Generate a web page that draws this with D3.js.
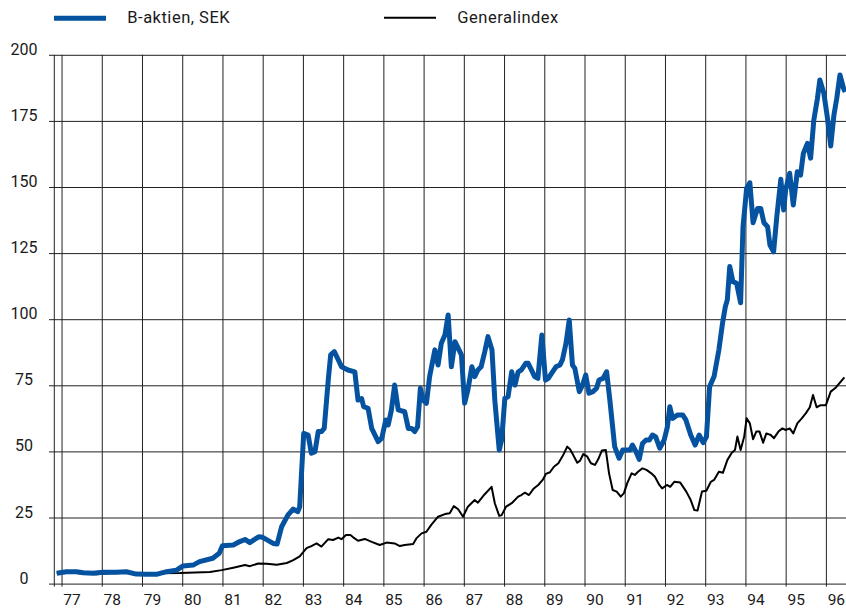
<!DOCTYPE html>
<html>
<head>
<meta charset="utf-8">
<script src="https://cdn.jsdelivr.net/npm/d3@7"></script>
<style>
  body { margin: 0; background: #fff; }
  svg text { font-family: Roboto, "Open Sans", sans-serif; fill: #1a1a1a; }
</style>
</head>
<body>
<svg id="chart"></svg>
<script>
// B-aktien, SEK (decimal year, value)
var bDates = [1976.88, 1977.12, 1977.37, 1977.54, 1977.78, 1978.03, 1978.37, 1978.61, 1978.86, 1979.11,
  1979.36, 1979.61, 1979.86, 1980.02, 1980.27, 1980.43, 1980.76, 1980.92, 1981.0, 1981.27,
  1981.43, 1981.56, 1981.68, 1981.9, 1982.0, 1982.26, 1982.36, 1982.47, 1982.63, 1982.76,
  1982.87, 1982.92, 1983.02, 1983.13, 1983.21, 1983.3, 1983.38, 1983.46, 1983.53, 1983.63,
  1983.69, 1983.78, 1983.88, 1983.96, 1984.12, 1984.29, 1984.37, 1984.46, 1984.51, 1984.62,
  1984.71, 1984.87, 1984.96, 1985.06, 1985.12, 1985.2, 1985.28, 1985.37, 1985.53, 1985.62,
  1985.7, 1985.78, 1985.85, 1985.92, 1985.99, 1986.07, 1986.15, 1986.28, 1986.36, 1986.44,
  1986.53, 1986.61, 1986.69, 1986.78, 1986.94, 1987.02, 1987.1, 1987.2, 1987.27, 1987.35,
  1987.43, 1987.52, 1987.6, 1987.7, 1987.77, 1987.88, 1987.94, 1988.02, 1988.1, 1988.19,
  1988.27, 1988.35, 1988.43, 1988.54, 1988.6, 1988.68, 1988.76, 1988.84, 1988.94, 1989.03,
  1989.1, 1989.18, 1989.29, 1989.39, 1989.45, 1989.54, 1989.62, 1989.7, 1989.76, 1989.87,
  1989.95, 1990.03, 1990.11, 1990.21, 1990.3, 1990.36, 1990.46, 1990.55, 1990.63, 1990.75,
  1990.86, 1990.95, 1991.04, 1991.13, 1991.19, 1991.28, 1991.36, 1991.44, 1991.53, 1991.61,
  1991.69, 1991.77, 1991.87, 1991.98, 1992.06, 1992.12, 1992.19, 1992.31, 1992.44, 1992.52,
  1992.64, 1992.75, 1992.85, 1992.95, 1993.03, 1993.11, 1993.22, 1993.34, 1993.43, 1993.5,
  1993.55, 1993.61, 1993.69, 1993.78, 1993.88, 1993.94, 1994.03, 1994.11, 1994.19, 1994.3,
  1994.38, 1994.46, 1994.55, 1994.61, 1994.7, 1994.78, 1994.88, 1994.95, 1995.0, 1995.1,
  1995.19, 1995.29, 1995.37, 1995.44, 1995.54, 1995.62, 1995.7, 1995.79, 1995.85, 1995.95,
  1996.04, 1996.12, 1996.2, 1996.27, 1996.35, 1996.44, 1996.48]
var bValues = [3.9, 4.5, 4.5, 4.1, 3.9, 4.3, 4.3, 4.5, 3.6, 3.5,
  3.5, 4.5, 5.1, 6.7, 7.0, 8.3, 9.6, 11.5, 14.3, 14.6,
  15.9, 16.7, 15.5, 17.7, 17.5, 15.2, 15.0, 21.5, 26, 28.2,
  27.2, 29, 56.8, 56.2, 49.3, 49.9, 57.5, 57.5, 58.7, 77,
  86.5, 87.7, 84.6, 82, 80.8, 80.1, 69.4, 70, 66.9, 66.3,
  58.7, 53.7, 55, 61.9, 60, 65.7, 75.1, 65.7, 65, 58.7,
  58.7, 57.5, 59.3, 73.9, 69.4, 68.2, 78.3, 88.4, 82.7, 90.9,
  94, 101.6, 82, 91.5, 86.5, 68.2, 73.2, 82, 78.3, 80.8,
  82, 87.7, 93.4, 88.4, 69.4, 50.5, 54.3, 70.1, 70.7, 80.1,
  75.1, 80.1, 80.8, 83.3, 83.3, 80.8, 78.3, 77.6, 94, 77,
  77.6, 79.5, 82, 82.7, 84.6, 90.9, 99.7, 82.7, 81.4, 72.6,
  75.1, 78.9, 72, 72.6, 73.9, 77, 77.6, 80.1, 69.4, 51.8,
  47.4, 50.5, 50.5, 50.5, 52.4, 49.9, 47, 53, 54.3, 54.3,
  56.2, 55.5, 51.2, 54.3, 59.3, 66.9, 62.5, 63.8, 63.8, 61.9,
  56.2, 52.4, 56.2, 53.3, 55.5, 74.5, 78.3, 88.4, 98.4, 104.7,
  107.3, 119.9, 114.2, 113.6, 106.2, 135, 149.5, 151.6, 136.5, 141.9,
  141.9, 136.5, 135, 128, 125.5, 138.8, 152.9, 141.3, 148.9, 155.2,
  143.2, 155.8, 154.5, 162.7, 166.5, 160.9, 175.3, 183.5, 190.5, 185.4,
  176, 165.5, 177.2, 183.5, 192.4, 187.3, 186]

// Generalindex (decimal year, value)
var gDates = [1976.88, 1977.12, 1977.45, 1977.87, 1978.2, 1978.62, 1978.95, 1979.37, 1979.95, 1980.69,
  1980.98, 1981.27, 1981.56, 1981.68, 1981.89, 1982.1, 1982.35, 1982.6, 1982.76, 1982.92,
  1983.09, 1983.21, 1983.34, 1983.46, 1983.63, 1983.75, 1983.88, 1983.96, 1984.07, 1984.18,
  1984.25, 1984.37, 1984.54, 1984.71, 1984.91, 1985.08, 1985.28, 1985.41, 1985.53, 1985.74,
  1985.82, 1985.95, 1986.07, 1986.19, 1986.36, 1986.53, 1986.65, 1986.75, 1986.86, 1986.98,
  1987.1, 1987.27, 1987.35, 1987.52, 1987.69, 1987.77, 1987.88, 1987.94, 1988.05, 1988.19,
  1988.35, 1988.43, 1988.52, 1988.62, 1988.74, 1988.85, 1988.96, 1989.04, 1989.14, 1989.24,
  1989.35, 1989.47, 1989.57, 1989.64, 1989.72, 1989.82, 1989.89, 1989.97, 1990.07, 1990.16,
  1990.26, 1990.34, 1990.43, 1990.53, 1990.61, 1990.7, 1990.8, 1990.9, 1990.98, 1991.06,
  1991.17, 1991.25, 1991.33, 1991.44, 1991.54, 1991.66, 1991.75, 1991.86, 1991.93, 1992.05,
  1992.13, 1992.23, 1992.38, 1992.53, 1992.64, 1992.73, 1992.81, 1992.92, 1993.03, 1993.14,
  1993.22, 1993.34, 1993.44, 1993.55, 1993.66, 1993.74, 1993.8, 1993.88, 1993.97, 1994.03,
  1994.11, 1994.19, 1994.27, 1994.35, 1994.44, 1994.52, 1994.63, 1994.71, 1994.82, 1994.92,
  1995.0, 1995.1, 1995.19, 1995.29, 1995.4, 1995.5, 1995.6, 1995.68, 1995.77, 1995.87,
  1996.0, 1996.12, 1996.25, 1996.37, 1996.46]
var gValues = [4.1, 4.3, 3.9, 3.5, 3.9, 4.1, 3.9, 3.9, 4.0, 4.4,
  5.1, 6.0, 7.0, 6.6, 7.6, 7.5, 7.1, 7.8, 8.9, 10.3,
  13.4, 14.2, 15.2, 14, 16.8, 16.5, 17.4, 16.8, 18.4, 18.4,
  17.5, 16.2, 16.9, 15.8, 14.6, 15.5, 15.2, 14.2, 14.6, 15,
  17.1, 19, 19.6, 22.2, 25.3, 26.3, 26.6, 29.3, 28.1, 25.3,
  29.1, 31.6, 30.6, 33.8, 36.6, 30.4, 25.6, 25.9, 29.1, 30.4,
  32.9, 33.5, 34.4, 33.5, 36, 37.3, 39.2, 41.5, 42.1, 44.2,
  45.5, 48.6, 51.8, 50.8, 48.6, 45.7, 46.5, 49, 48, 45.5,
  44.9, 47, 50.3, 50.5, 41.7, 35.4, 34.8, 32.9, 34.2, 37.9,
  41.7, 41.1, 42.3, 43.6, 43, 41.7, 40.4, 37.3, 36, 37.3,
  36.6, 38.5, 38.2, 34.8, 31.6, 27.8, 27.6, 34.8, 35.1, 38.5,
  39.2, 42.3, 41.9, 46.7, 49.5, 50.5, 55.6, 50.5, 55.6, 62.5,
  60.6, 54.6, 57.5, 57.5, 53.3, 56.8, 56.2, 55, 57.5, 58.7,
  58.1, 58.7, 56.8, 60.6, 62.5, 64.4, 66.7, 71.3, 66.7, 67.5,
  67.5, 72.6, 74.2, 76.4, 78]

var tickYears = [1977, 1978, 1979, 1980, 1981, 1982, 1983, 1984, 1985, 1986,
  1987, 1988, 1989, 1990, 1991, 1992, 1993, 1994, 1995, 1996]
var yearLabels = ["77", "78", "79", "80", "81", "82", "83", "84", "85", "86",
  "87", "88", "89", "90", "91", "92", "93", "94", "95", "96"]
var yTicks = [0, 25, 50, 75, 100, 125, 150, 175, 200]
var seriesNames = ["B-aktien, SEK", "Generalindex"]

var dimensions = {
    width: 846,
    height: 609,
    left: 54.3,
    right: 846,
    top: 54.8,
    bottom: 583.6
}

var blue = "#0553a0"

var svg = d3.select("#chart")
            .attr("width", dimensions.width)
            .attr("height", dimensions.height)

var xScale = d3.scaleLinear()
               .domain([1976.82, 1996.5])
               .range([dimensions.left, dimensions.right])

var yScale = d3.scaleLinear()
               .domain([0, 200])
               .range([dimensions.bottom, dimensions.top])

// horizontal grid lines (they stick out a bit to the left like ticks)
var yAxisGen = d3.axisLeft(yScale)
                 .tickValues(yTicks)
                 .tickSize(-(dimensions.right - 49))
                 .tickFormat("")
svg.append("g")
   .attr("transform", "translate(49,0)")
   .call(yAxisGen)
   .call(g => g.select(".domain").remove())
   .call(g => g.selectAll("line").attr("stroke", "#222"))

// vertical grid lines, 3px below the axis
var xAxisGen = d3.axisBottom(xScale)
                 .tickValues(tickYears)
                 .tickSize(-(dimensions.bottom + 3 - dimensions.top))
                 .tickFormat("")
svg.append("g")
   .attr("transform", `translate(0,${dimensions.bottom + 3})`)
   .call(xAxisGen)
   .call(g => g.select(".domain").remove())
   .call(g => g.selectAll("line").attr("stroke", "#222"))

// left axis line
svg.append("line")
   .attr("x1", dimensions.left).attr("x2", dimensions.left)
   .attr("y1", dimensions.top).attr("y2", dimensions.bottom + 3)
   .attr("stroke", "#222")

// y labels, centred, sitting on the grid line
svg.append("g")
   .selectAll("text")
   .data(yTicks)
   .enter()
   .append("text")
   .attr("x", 24)
   .attr("y", d => yScale(d))
   .attr("text-anchor", "middle")
   .style("font-size", "16px")
   .text(d => d)

// x labels, just right of each year line
svg.append("g")
   .selectAll("text")
   .data(tickYears)
   .enter()
   .append("text")
   .attr("x", d => xScale(d) + 10.5)
   .attr("y", 605)
   .attr("text-anchor", "middle")
   .style("font-size", "15.5px")
   .text((d, i) => yearLabels[i])

var lineGen = d3.line()
                .x(d => xScale(d[0]))
                .y(d => yScale(d[1]))

var gData = gDates.map((d, i) => [d, gValues[i]])
var bData = bDates.map((d, i) => [d, bValues[i]])

svg.append("path")
   .datum(gData)
   .attr("d", lineGen)
   .attr("fill", "none")
   .attr("stroke", "#000")
   .attr("stroke-width", 2)
   .attr("stroke-linejoin", "round")

svg.append("path")
   .datum(bData)
   .attr("d", lineGen)
   .attr("fill", "none")
   .attr("stroke", blue)
   .attr("stroke-width", 5)
   .attr("stroke-linejoin", "round")

// legend
var legend = [
    {name: seriesNames[0], color: blue, width: 5, x: 54, y: 18.3},
    {name: seriesNames[1], color: "#000", width: 2, x: 384, y: 17.7}
]
var items = svg.append("g")
               .selectAll("g")
               .data(legend)
               .enter()
               .append("g")
items.append("line")
     .attr("x1", d => d.x).attr("x2", d => d.x + 52)
     .attr("y1", d => d.y).attr("y2", d => d.y)
     .attr("stroke", d => d.color)
     .attr("stroke-width", d => d.width)
items.append("text")
     .attr("x", d => d.x + 73.3)
     .attr("y", 23.3)
     .style("font-size", "16.5px")
     .style("letter-spacing", "0.5px")
     .text(d => d.name)
</script>
</body>
</html>
